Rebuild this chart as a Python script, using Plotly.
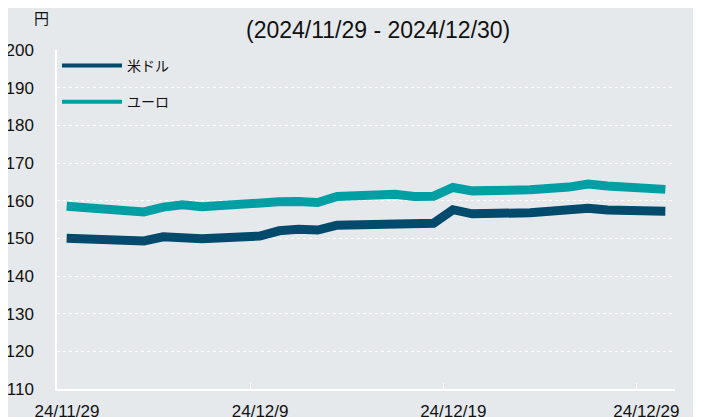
import plotly.graph_objects as go

dates = ["2024-11-29", "2024-12-02", "2024-12-03", "2024-12-04", "2024-12-05", "2024-12-06",
         "2024-12-09", "2024-12-10", "2024-12-11", "2024-12-12", "2024-12-13",
         "2024-12-16", "2024-12-17", "2024-12-18", "2024-12-19", "2024-12-20",
         "2024-12-23", "2024-12-24", "2024-12-25", "2024-12-26", "2024-12-27", "2024-12-30"]
usd = [150.0, 149.8, 149.3, 150.4, 150.3, 149.9,
       150.6, 152.0, 152.4, 152.2, 153.5,
       153.8, 153.5, 154.0, 157.6, 156.5,
       156.8, 157.1, 157.5, 158.0, 157.5, 157.2]
eur = [158.5, 157.1, 157.0, 158.3, 158.9, 158.4,
       159.8, 159.7, 159.8, 159.5, 161.1,
       161.7, 161.1, 161.2, 163.5, 162.6,
       162.9, 163.2, 163.6, 164.4, 163.9, 163.0]
series_names = ["米ドル", "ユーロ"]
tick_dates = ["2024-11-29", "2024-12-09", "2024-12-19", "2024-12-29"]
tick_labels = ["24/11/29", "24/12/9", "24/12/19", "24/12/29"]
y_ticks = [110, 120, 130, 140, 150, 160, 170, 180, 190, 200]
title_text = "(2024/11/29 - 2024/12/30)"

NAVY = "#004a6c"
TEAL = "#009fa4"
BG = "#e6e9ec"
FONT = "Arial, 'Liberation Sans', 'Noto Sans CJK JP', sans-serif"

x_mid = [d + " 12:00" for d in dates]

fig = go.Figure()
fig.add_trace(go.Scatter(x=x_mid, y=usd, mode="lines", line=dict(color=NAVY, width=9),
                         showlegend=False, name=series_names[0]))
fig.add_trace(go.Scatter(x=x_mid, y=eur, mode="lines", line=dict(color=TEAL, width=9),
                         showlegend=False, name=series_names[1]))
# legend entries
fig.add_trace(go.Scatter(x=[None], y=[None], mode="lines", line=dict(color=NAVY, width=4),
                         name=series_names[0], legendgroup="a"))
fig.add_trace(go.Scatter(x=[None], y=[None], mode="lines", line=dict(color=TEAL, width=4),
                         name=series_names[1], legendgroup="b"))

fig.update_layout(
    width=701, height=417,
    paper_bgcolor=BG, plot_bgcolor=BG,
    margin=dict(l=49, r=34, t=42, b=36),
    font=dict(family=FONT, color="#111111", size=17),
    title=dict(text=title_text, x=0.528, xanchor="center", y=0.947, yanchor="middle",
               font=dict(size=23, color="#111111")),
    legend=dict(x=0.0, y=1.0, xanchor="left", yanchor="top", bgcolor="rgba(0,0,0,0)",
                font=dict(size=14, color="#111111"), itemwidth=60,
                traceorder="grouped", tracegroupgap=15),
    xaxis=dict(type="date", range=["2024-11-29", "2024-12-31"],
               tickvals=tick_dates, ticktext=tick_labels, automargin=False,
               showgrid=False, zeroline=False,
               showline=True, linecolor="white", linewidth=1.5,
               ticks="inside", tickcolor="white", ticklen=6, tickwidth=1,
               ticklabelshift=10, ticklabelstandoff=6,
               tickfont=dict(size=17, color="#111111")),
    yaxis=dict(range=[110, 200], tickvals=y_ticks, automargin=False,
               showgrid=True, gridcolor="white", griddash="dot", gridwidth=1,
               zeroline=False, showline=True, linecolor="white", linewidth=1.5,
               ticks="", ticklabelstandoff=18,
               tickfont=dict(size=17, color="#111111")),
    annotations=[dict(text="円", xref="paper", yref="paper", x=-0.025, y=1.0, yshift=32,
                      xanchor="center", yanchor="middle", showarrow=False,
                      font=dict(size=15, color="#111111"))],
)

fig.write_html("out.html")
